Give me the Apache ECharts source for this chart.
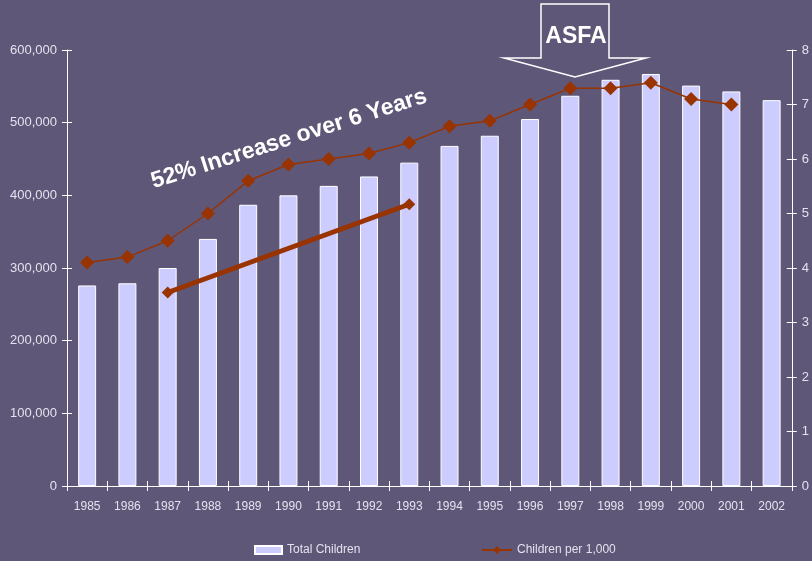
<!DOCTYPE html>
<html>
<head>
<meta charset="utf-8">
<script src="https://cdn.jsdelivr.net/npm/echarts@6/dist/echarts.min.js"></script>
<style>
html, body { margin: 0; padding: 0; background: #5e5778; }
#main { width: 812px; height: 561px; }
</style>
</head>
<body>
<div id="main"></div>
<script>
var years = ['1985', '1986', '1987', '1988', '1989', '1990', '1991', '1992', '1993',
             '1994', '1995', '1996', '1997', '1998', '1999', '2000', '2001', '2002'];
var totalChildren = [276000, 279000, 300000, 340000, 387000, 400000, 413000, 426000, 445000,
                     468000, 482000, 505000, 537000, 559000, 567000, 551000, 543000, 531000];
var perThousand = [4.1, 4.2, 4.5, 5.0, 5.6, 5.9, 6.0, 6.1, 6.3,
                   6.6, 6.7, 7.0, 7.3, 7.3, 7.4, 7.1, 7.0, null];
// trend annotation 1987 -> 1993
var trend = [null, null, 3.55, null, null, null, null, null, 5.17,
             null, null, null, null, null, null, null, null, null];

var myChart = echarts.init(document.getElementById('main'));
var txt = '#e4e2ee';
var font = 'Liberation Sans, Arial, sans-serif';

function xAx(inside, show) {
    return {
        type: 'category', data: years, position: 'bottom',
        axisLine: { show: show, lineStyle: { color: '#ffffff', width: 1 } },
        axisTick: { show: true, inside: inside, length: 5, lineStyle: { color: '#ffffff' } },
        axisLabel: { show: show, color: txt, fontSize: 12, fontFamily: font, margin: 15 }
    };
}
function yAx(pos, max, interval, inside, show, fmt) {
    return {
        type: 'value', position: pos, min: 0, max: max, interval: interval,
        splitLine: { show: false },
        axisLine: { show: show, lineStyle: { color: '#ffffff', width: 1 } },
        axisTick: { show: true, inside: inside, length: 5, lineStyle: { color: '#ffffff' } },
        axisLabel: { show: show, color: txt, fontSize: 13, fontFamily: font, margin: 10, formatter: fmt }
    };
}

var option = {
    backgroundColor: '#5e5778',
    animation: false,
    textStyle: { fontFamily: font },
    grid: { left: 67, right: 17, top: 50, bottom: 75 },
    xAxis: [xAx(false, true), xAx(true, false)],
    yAxis: [
        yAx('left', 600000, 100000, false, true, function (v) { return v.toLocaleString('en-US'); }),
        yAx('right', 8, 1, false, true),
        yAx('left', 600000, 100000, true, false),
        yAx('right', 8, 1, true, false)
    ],
    legend: [
        {
            data: [{ name: 'Total Children', icon: 'rect' }], left: 249, top: 539, itemWidth: 27, itemHeight: 8,
            textStyle: { color: txt, fontSize: 12, fontFamily: font }
        },
        {
            data: ['Children per 1,000'], left: 476, top: 539, itemWidth: 30, itemHeight: 10,
            textStyle: { color: txt, fontSize: 12, fontFamily: font }
        }
    ],
    series: [
        {
            name: 'Total Children', type: 'bar', data: totalChildren, barWidth: 18,
            itemStyle: { color: '#ccccff', borderColor: '#ffffff', borderWidth: 1 }
        },
        {
            name: 'Children per 1,000', type: 'line', yAxisIndex: 1, data: perThousand,
            symbol: 'diamond', symbolSize: 14,
            lineStyle: { color: '#993300', width: 1.5 },
            itemStyle: { color: '#993300' }
        },
        {
            name: 'trend', type: 'line', yAxisIndex: 1, data: trend, connectNulls: true,
            symbol: 'diamond', symbolSize: 12,
            lineStyle: { color: '#993300', width: 5 },
            itemStyle: { color: '#993300' }
        }
    ],
    graphic: [
        {
            type: 'text', x: 289, y: 139, rotation: 17.5 * Math.PI / 180,
            style: {
                text: '52% Increase over 6 Years', fill: '#ffffff',
                font: 'bold 23px Liberation Sans, Arial, sans-serif',
                align: 'center', verticalAlign: 'middle'
            }
        },
        {
            type: 'polygon',
            shape: { points: [[541, 4], [609, 4], [609, 58], [646, 58], [575, 77], [504, 58], [541, 58]] },
            style: { fill: '#5e5778', stroke: '#ffffff', lineWidth: 1.5 }
        },
        {
            type: 'text', x: 576, y: 37,
            style: {
                text: 'ASFA', fill: '#ffffff',
                font: 'bold 23px Liberation Sans, Arial, sans-serif',
                align: 'center', verticalAlign: 'middle'
            }
        }
    ]
};

myChart.setOption(option);
</script>
</body>
</html>
